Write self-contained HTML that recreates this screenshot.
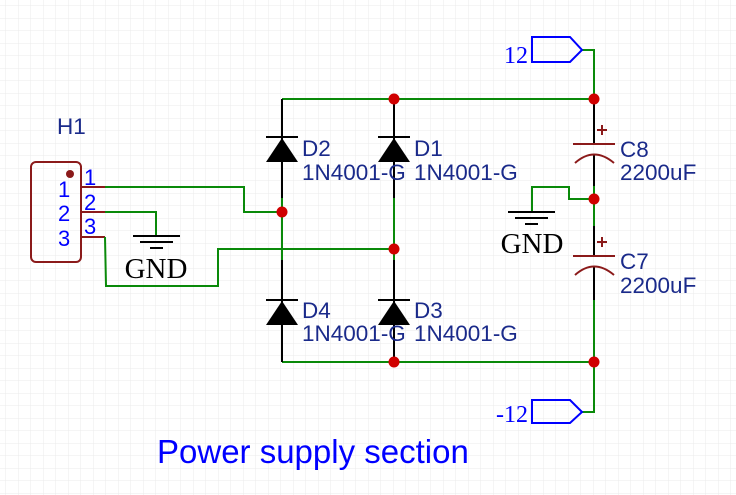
<!DOCTYPE html>
<html><head><style>
body{margin:0;background:#fff;}
svg{display:block;}
.t{font-family:"Liberation Sans",sans-serif;fill:#1a2a8a;font-size:22.5px;}
.s{font-family:"Liberation Serif",serif;}
</style></head><body>
<svg width="736" height="495" viewBox="0 0 736 495" xmlns="http://www.w3.org/2000/svg">
<defs><pattern id="g" width="12.5" height="12.5" patternUnits="userSpaceOnUse" x="6" y="6"><path d="M12.5 0V12.5H0" fill="none" stroke="#ebebeb" stroke-width="1"/></pattern></defs>
<rect width="736" height="495" fill="url(#g)"/>
<rect x="31" y="162" width="50" height="100" rx="5" fill="none" stroke="#8b1a1a" stroke-width="2"/>
<circle cx="70" cy="174" r="4" fill="#8b1a1a"/>
<g stroke="#8b1a1a" stroke-width="2"><line x1="81" y1="187" x2="105" y2="187"/><line x1="81" y1="212" x2="105" y2="212"/><line x1="81" y1="237" x2="105" y2="237"/></g>
<text x="57" y="134" class="t">H1</text>
<g font-family="Liberation Sans,sans-serif" font-size="22" fill="#0000ff">
<text x="58" y="197">1</text><text x="58" y="221">2</text><text x="58" y="246">3</text>
<text x="84" y="185">1</text><text x="84" y="210">2</text><text x="84" y="234">3</text></g>
<g fill="none" stroke="#0a8a0a" stroke-width="2">
<polyline points="105,187 244,187 244,212 282,212"/>
<polyline points="105,212 156,212 156,236"/>
<polyline points="105,237 106,286 218,286 218,249 394,249"/>
<polyline points="282,99 594,99"/>
<polyline points="282,362 594,362"/>
<line x1="282" y1="198" x2="282" y2="260"/>
<line x1="394" y1="198" x2="394" y2="260"/>
<polyline points="582,50 594,50 594,99"/>
<polyline points="582,412 594,412 594,362"/>
<line x1="594" y1="300" x2="594" y2="362"/>
<polyline points="594,199 569,199 569,187 532,187 532,212"/>
<line x1="594" y1="186" x2="594" y2="226"/>
</g>
<g stroke="#000" stroke-width="2">
<line x1="282" y1="99" x2="282" y2="198"/><line x1="394" y1="99" x2="394" y2="198"/>
<line x1="282" y1="260" x2="282" y2="362"/><line x1="394" y1="260" x2="394" y2="362"/>
<line x1="266" y1="137" x2="298" y2="137"/><line x1="378" y1="137" x2="410" y2="137"/>
<line x1="266" y1="300" x2="298" y2="300"/><line x1="378" y1="300" x2="410" y2="300"/>
</g>
<g fill="#000">
<polygon points="282,138 266,162 298,162"/><polygon points="394,138 378,162 410,162"/>
<polygon points="282,301 266,325 298,325"/><polygon points="394,301 378,325 410,325"/>
</g>
<text x="302" y="156" class="t">D2</text><text x="302" y="180" class="t">1N4001-G</text>
<text x="414" y="156" class="t">D1</text><text x="414" y="180" class="t">1N4001-G</text>
<text x="302" y="318" class="t">D4</text><text x="302" y="341" class="t">1N4001-G</text>
<text x="414" y="318" class="t">D3</text><text x="414" y="341" class="t">1N4001-G</text>
<g stroke="#000" stroke-width="2">
<line x1="594" y1="99" x2="594" y2="144"/><line x1="594" y1="155" x2="594" y2="186"/>
<line x1="594" y1="226" x2="594" y2="256"/><line x1="594" y1="267" x2="594" y2="300"/>
</g>
<g stroke="#8b1a1a" stroke-width="2" fill="none">
<line x1="573" y1="144" x2="615" y2="144"/><path d="M575 163 Q594 146 614 163"/>
<line x1="597" y1="130" x2="607" y2="130"/><line x1="602" y1="125" x2="602" y2="135"/>
<line x1="573" y1="256" x2="615" y2="256"/><path d="M575 275 Q594 258 614 275"/>
<line x1="597" y1="242" x2="607" y2="242"/><line x1="602" y1="237" x2="602" y2="247"/>
</g>
<text x="620" y="157" class="t">C8</text><text x="620" y="180" class="t">2200uF</text>
<text x="620" y="269" class="t">C7</text><text x="620" y="293" class="t">2200uF</text>
<g stroke="#000" stroke-width="2">
<line x1="133" y1="236" x2="180" y2="236"/><line x1="140" y1="242" x2="173" y2="242"/><line x1="150" y1="248" x2="163" y2="248"/>
<line x1="508" y1="212" x2="555" y2="212"/><line x1="515" y1="218" x2="548" y2="218"/><line x1="525" y1="224" x2="538" y2="224"/>
</g>
<text x="156" y="278" text-anchor="middle" class="s" font-size="29" fill="#000">GND</text>
<text x="532" y="253" text-anchor="middle" class="s" font-size="29" fill="#000">GND</text>
<g fill="none" stroke="#0000ff" stroke-width="2">
<polygon points="532,37 570,37 582,50 570,62 532,62"/>
<polygon points="532,400 570,400 582,412 570,423 532,423"/>
</g>
<text x="528" y="63" text-anchor="end" class="s" font-size="24" fill="#0000ff">12</text>
<text x="528" y="422" text-anchor="end" class="s" font-size="24" fill="#0000ff">-12</text>
<g fill="#d00000">
<circle cx="282" cy="212" r="5.5"/><circle cx="394" cy="249" r="5.5"/><circle cx="394" cy="99" r="5.5"/><circle cx="394" cy="362" r="5.5"/>
<circle cx="594" cy="99" r="5.5"/><circle cx="594" cy="199" r="5.5"/><circle cx="594" cy="362" r="5.5"/>
</g>
<text x="157" y="463" font-family="Liberation Sans,sans-serif" font-size="33" fill="#0000ff">Power supply section</text>
</svg>
</body></html>
